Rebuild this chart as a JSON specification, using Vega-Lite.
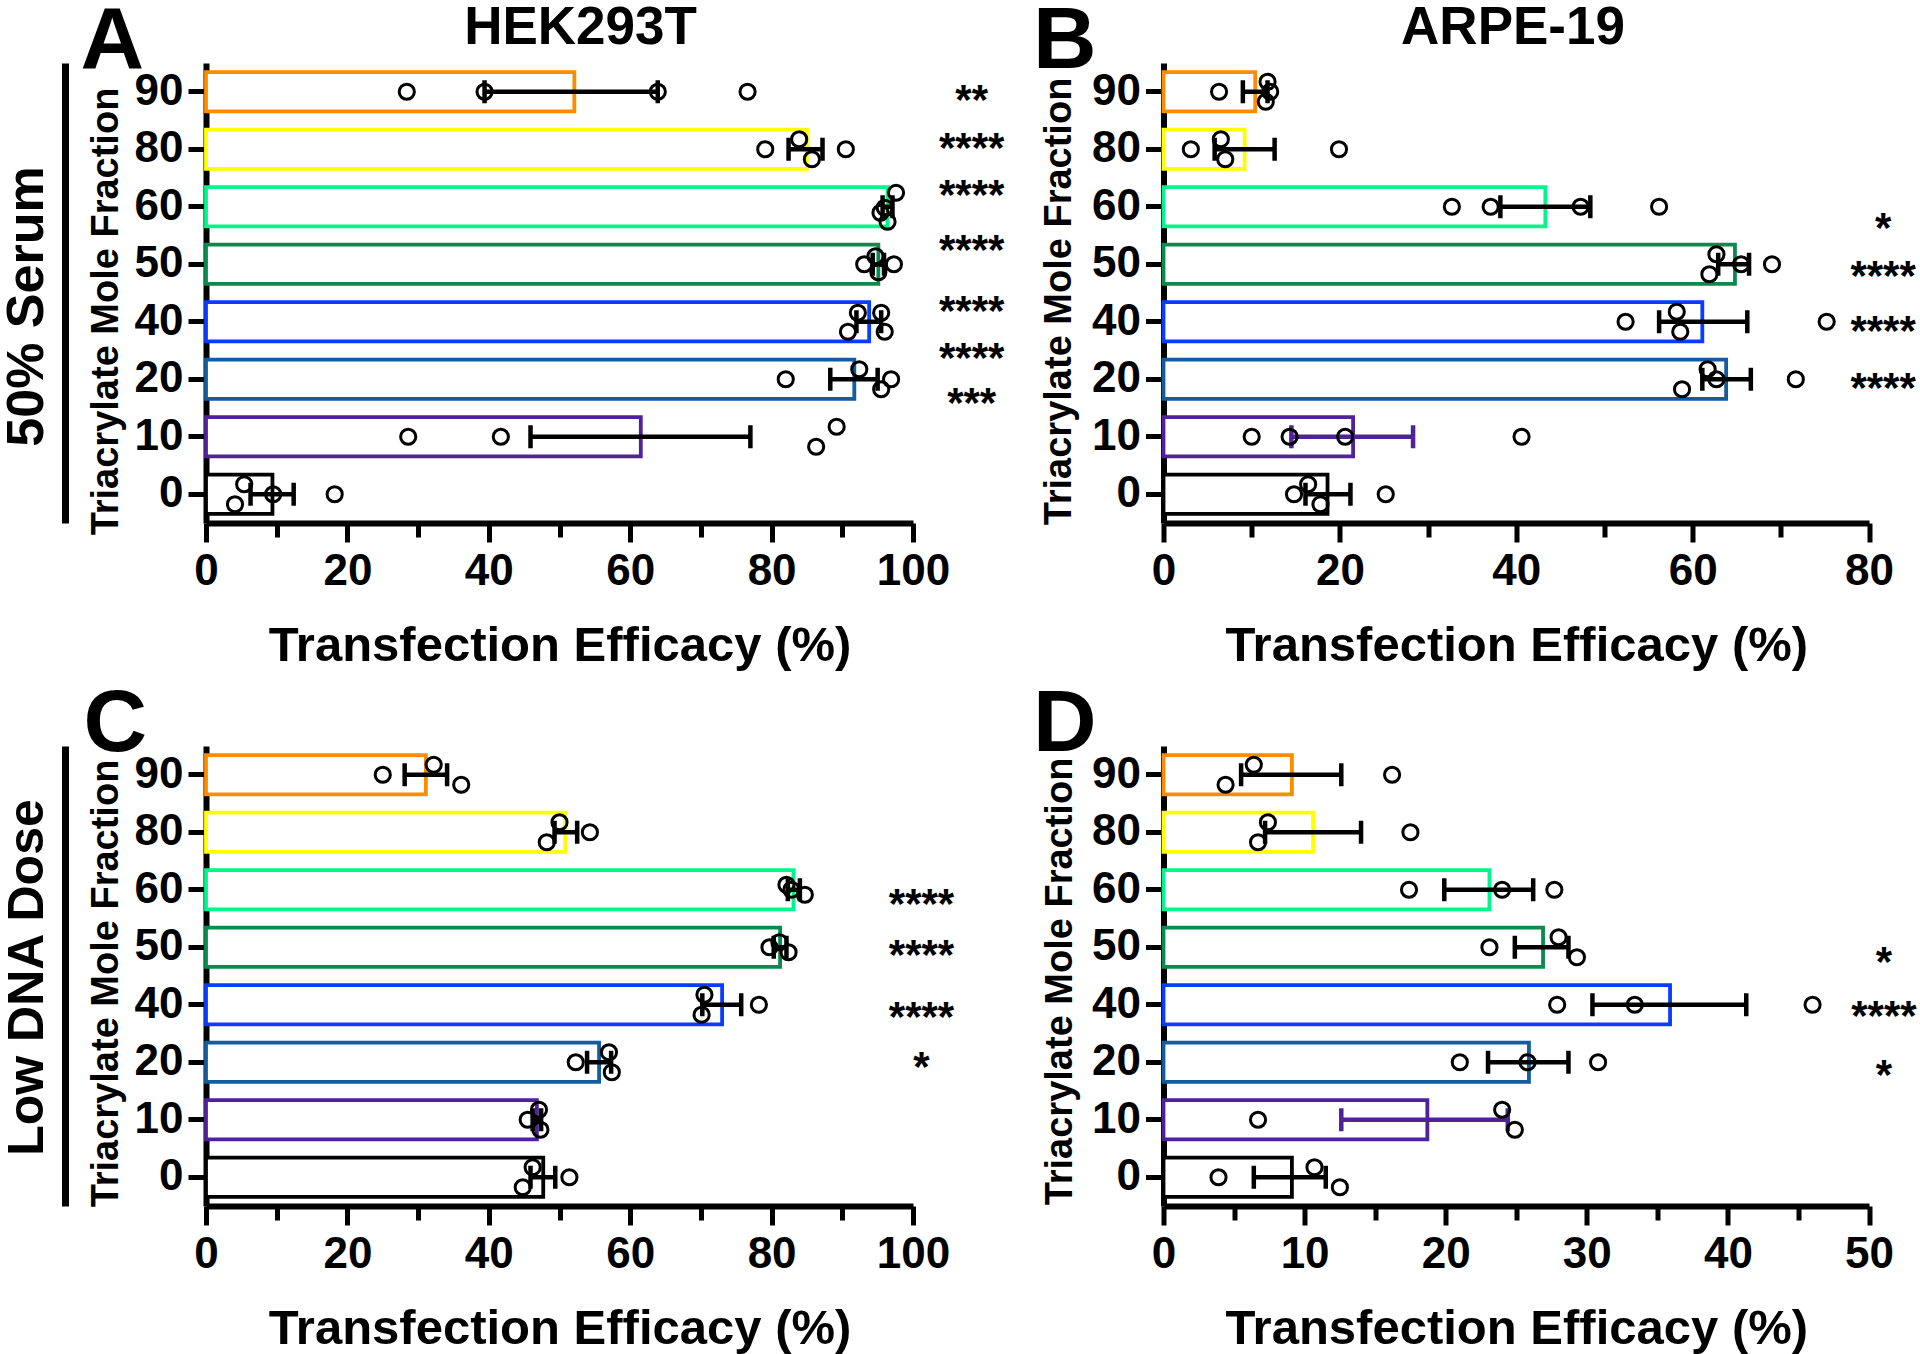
{
  "$schema": "https://vega.github.io/schema/vega-lite/v6.json",
  "background": "white",
  "autosize": {"type": "none"},
  "padding": {"left": 206, "top": 63, "right": 1714, "bottom": 1291},
  "config": {
    "view": {"stroke": null},
    "font": "Liberation Sans",
    "axis": {"domainColor": "black", "domainWidth": 6, "tickColor": "black", "tickWidth": 5, "labelFont": "Liberation Sans", "labelFontSize": 44, "labelFontWeight": "bold", "labelColor": "black", "titleFont": "Liberation Sans", "titleFontWeight": "bold", "titleColor": "black", "grid": false},
    "tick": {"opacity": 1},
    "point": {"opacity": 1}
  },
  "datasets": {
    "bars": [
      {"panel":"A","frac":"90","mean":52.1,"lo":39.4,"hi":63.9},
      {"panel":"A","frac":"80","mean":85.0,"lo":82.4,"hi":87.2},
      {"panel":"A","frac":"60","mean":96.4,"lo":95.7,"hi":97.1},
      {"panel":"A","frac":"50","mean":95.1,"lo":94.3,"hi":95.9},
      {"panel":"A","frac":"40","mean":93.8,"lo":92.0,"hi":95.5},
      {"panel":"A","frac":"20","mean":91.7,"lo":88.3,"hi":95.0},
      {"panel":"A","frac":"10","mean":61.5,"lo":45.9,"hi":77.0},
      {"panel":"A","frac":"0","mean":9.4,"lo":6.3,"hi":12.4},
      {"panel":"B","frac":"90","mean":10.4,"lo":9.0,"hi":11.8},
      {"panel":"B","frac":"80","mean":9.2,"lo":5.8,"hi":12.6},
      {"panel":"B","frac":"60","mean":43.3,"lo":38.2,"hi":48.4},
      {"panel":"B","frac":"50","mean":64.8,"lo":62.9,"hi":66.4},
      {"panel":"B","frac":"40","mean":61.1,"lo":56.2,"hi":66.2},
      {"panel":"B","frac":"20","mean":63.8,"lo":61.1,"hi":66.6},
      {"panel":"B","frac":"10","mean":21.5,"lo":14.5,"hi":28.3},
      {"panel":"B","frac":"0","mean":18.6,"lo":16.1,"hi":21.2},
      {"panel":"C","frac":"90","mean":31.1,"lo":28.1,"hi":34.1},
      {"panel":"C","frac":"80","mean":50.8,"lo":49.3,"hi":52.5},
      {"panel":"C","frac":"60","mean":83.1,"lo":82.3,"hi":84.0},
      {"panel":"C","frac":"50","mean":81.2,"lo":80.3,"hi":82.1},
      {"panel":"C","frac":"40","mean":73.0,"lo":70.2,"hi":75.7},
      {"panel":"C","frac":"20","mean":55.6,"lo":53.9,"hi":57.3},
      {"panel":"C","frac":"10","mean":46.8,"lo":46.2,"hi":47.4},
      {"panel":"C","frac":"0","mean":47.7,"lo":45.9,"hi":49.4},
      {"panel":"D","frac":"90","mean":9.1,"lo":5.5,"hi":12.6},
      {"panel":"D","frac":"80","mean":10.6,"lo":7.2,"hi":14.0},
      {"panel":"D","frac":"60","mean":23.1,"lo":19.9,"hi":26.2},
      {"panel":"D","frac":"50","mean":26.9,"lo":24.9,"hi":28.7},
      {"panel":"D","frac":"40","mean":35.9,"lo":30.4,"hi":41.3},
      {"panel":"D","frac":"20","mean":25.9,"lo":23.0,"hi":28.7},
      {"panel":"D","frac":"10","mean":18.7,"lo":12.6,"hi":24.4},
      {"panel":"D","frac":"0","mean":9.1,"lo":6.4,"hi":11.5}
    ],
    "points": [
      {"panel":"A","frac":"90","value":28.4,"lane":0},
      {"panel":"A","frac":"90","value":39.4,"lane":0},
      {"panel":"A","frac":"90","value":63.9,"lane":0},
      {"panel":"A","frac":"90","value":76.6,"lane":0},
      {"panel":"A","frac":"80","value":79.1,"lane":0},
      {"panel":"A","frac":"80","value":83.9,"lane":-1},
      {"panel":"A","frac":"80","value":85.7,"lane":1},
      {"panel":"A","frac":"80","value":90.5,"lane":0},
      {"panel":"A","frac":"60","value":97.6,"lane":-1.4},
      {"panel":"A","frac":"60","value":96.0,"lane":0.1},
      {"panel":"A","frac":"60","value":95.4,"lane":0.6},
      {"panel":"A","frac":"60","value":96.4,"lane":1.5},
      {"panel":"A","frac":"50","value":93.1,"lane":0},
      {"panel":"A","frac":"50","value":94.7,"lane":-0.8},
      {"panel":"A","frac":"50","value":95.1,"lane":0.8},
      {"panel":"A","frac":"50","value":97.3,"lane":0},
      {"panel":"A","frac":"40","value":92.2,"lane":-0.9},
      {"panel":"A","frac":"40","value":95.5,"lane":-0.9},
      {"panel":"A","frac":"40","value":90.8,"lane":1},
      {"panel":"A","frac":"40","value":96.0,"lane":1},
      {"panel":"A","frac":"20","value":82.0,"lane":0},
      {"panel":"A","frac":"20","value":92.4,"lane":-1},
      {"panel":"A","frac":"20","value":96.9,"lane":0},
      {"panel":"A","frac":"20","value":95.5,"lane":1},
      {"panel":"A","frac":"10","value":28.6,"lane":0},
      {"panel":"A","frac":"10","value":41.7,"lane":0},
      {"panel":"A","frac":"10","value":89.2,"lane":-1},
      {"panel":"A","frac":"10","value":86.3,"lane":1},
      {"panel":"A","frac":"0","value":5.4,"lane":-1},
      {"panel":"A","frac":"0","value":4.1,"lane":1},
      {"panel":"A","frac":"0","value":9.5,"lane":0},
      {"panel":"A","frac":"0","value":18.2,"lane":0},
      {"panel":"B","frac":"90","value":6.3,"lane":0},
      {"panel":"B","frac":"90","value":11.8,"lane":-1},
      {"panel":"B","frac":"90","value":12.1,"lane":0},
      {"panel":"B","frac":"90","value":11.6,"lane":1},
      {"panel":"B","frac":"80","value":3.1,"lane":0},
      {"panel":"B","frac":"80","value":6.5,"lane":-1},
      {"panel":"B","frac":"80","value":7.0,"lane":1},
      {"panel":"B","frac":"80","value":19.9,"lane":0},
      {"panel":"B","frac":"60","value":32.7,"lane":0},
      {"panel":"B","frac":"60","value":37.1,"lane":0},
      {"panel":"B","frac":"60","value":47.3,"lane":0},
      {"panel":"B","frac":"60","value":56.2,"lane":0},
      {"panel":"B","frac":"50","value":62.7,"lane":-1},
      {"panel":"B","frac":"50","value":65.5,"lane":0},
      {"panel":"B","frac":"50","value":61.9,"lane":1},
      {"panel":"B","frac":"50","value":69.0,"lane":0},
      {"panel":"B","frac":"40","value":52.4,"lane":0},
      {"panel":"B","frac":"40","value":58.2,"lane":-1},
      {"panel":"B","frac":"40","value":58.6,"lane":1},
      {"panel":"B","frac":"40","value":75.2,"lane":0},
      {"panel":"B","frac":"20","value":61.7,"lane":-1},
      {"panel":"B","frac":"20","value":62.7,"lane":0},
      {"panel":"B","frac":"20","value":58.8,"lane":1},
      {"panel":"B","frac":"20","value":71.7,"lane":0},
      {"panel":"B","frac":"10","value":10.0,"lane":0},
      {"panel":"B","frac":"10","value":14.3,"lane":0},
      {"panel":"B","frac":"10","value":20.6,"lane":0},
      {"panel":"B","frac":"10","value":40.6,"lane":0},
      {"panel":"B","frac":"0","value":16.4,"lane":-1},
      {"panel":"B","frac":"0","value":14.8,"lane":0},
      {"panel":"B","frac":"0","value":17.8,"lane":1},
      {"panel":"B","frac":"0","value":25.2,"lane":0},
      {"panel":"C","frac":"90","value":25.0,"lane":0},
      {"panel":"C","frac":"90","value":32.2,"lane":-1},
      {"panel":"C","frac":"90","value":36.1,"lane":1},
      {"panel":"C","frac":"80","value":50.0,"lane":-1},
      {"panel":"C","frac":"80","value":48.2,"lane":1},
      {"panel":"C","frac":"80","value":54.3,"lane":0},
      {"panel":"C","frac":"60","value":82.1,"lane":-0.5},
      {"panel":"C","frac":"60","value":82.8,"lane":0},
      {"panel":"C","frac":"60","value":84.7,"lane":0.5},
      {"panel":"C","frac":"50","value":79.7,"lane":0},
      {"panel":"C","frac":"50","value":81.1,"lane":-0.5},
      {"panel":"C","frac":"50","value":82.4,"lane":0.5},
      {"panel":"C","frac":"40","value":70.5,"lane":-1},
      {"panel":"C","frac":"40","value":70.1,"lane":1},
      {"panel":"C","frac":"40","value":78.2,"lane":0},
      {"panel":"C","frac":"20","value":52.3,"lane":0},
      {"panel":"C","frac":"20","value":57.0,"lane":-1},
      {"panel":"C","frac":"20","value":57.4,"lane":1},
      {"panel":"C","frac":"10","value":45.5,"lane":0},
      {"panel":"C","frac":"10","value":47.1,"lane":-1},
      {"panel":"C","frac":"10","value":47.3,"lane":1},
      {"panel":"C","frac":"0","value":46.2,"lane":-1},
      {"panel":"C","frac":"0","value":44.8,"lane":1},
      {"panel":"C","frac":"0","value":51.4,"lane":0},
      {"panel":"D","frac":"90","value":6.4,"lane":-1},
      {"panel":"D","frac":"90","value":4.4,"lane":1},
      {"panel":"D","frac":"90","value":16.2,"lane":0},
      {"panel":"D","frac":"80","value":7.4,"lane":-1},
      {"panel":"D","frac":"80","value":6.7,"lane":1},
      {"panel":"D","frac":"80","value":17.5,"lane":0},
      {"panel":"D","frac":"60","value":17.4,"lane":0},
      {"panel":"D","frac":"60","value":24.0,"lane":0},
      {"panel":"D","frac":"60","value":27.7,"lane":0},
      {"panel":"D","frac":"50","value":23.1,"lane":0},
      {"panel":"D","frac":"50","value":28.0,"lane":-1},
      {"panel":"D","frac":"50","value":29.3,"lane":1},
      {"panel":"D","frac":"40","value":27.9,"lane":0},
      {"panel":"D","frac":"40","value":33.4,"lane":0},
      {"panel":"D","frac":"40","value":46.0,"lane":0},
      {"panel":"D","frac":"20","value":21.0,"lane":0},
      {"panel":"D","frac":"20","value":25.8,"lane":0},
      {"panel":"D","frac":"20","value":30.8,"lane":0},
      {"panel":"D","frac":"10","value":6.7,"lane":0},
      {"panel":"D","frac":"10","value":24.0,"lane":-1},
      {"panel":"D","frac":"10","value":24.9,"lane":1},
      {"panel":"D","frac":"0","value":3.9,"lane":0},
      {"panel":"D","frac":"0","value":10.7,"lane":-1},
      {"panel":"D","frac":"0","value":12.5,"lane":1}
    ],
    "stars": [
      {"panel":"A","pos":7.0,"label":"**"},
      {"panel":"A","pos":6.16,"label":"****"},
      {"panel":"A","pos":5.35,"label":"****"},
      {"panel":"A","pos":4.39,"label":"****"},
      {"panel":"A","pos":3.33,"label":"****"},
      {"panel":"A","pos":2.51,"label":"****"},
      {"panel":"A","pos":1.73,"label":"***"},
      {"panel":"B","pos":4.77,"label":"*"},
      {"panel":"B","pos":3.93,"label":"****"},
      {"panel":"B","pos":2.98,"label":"****"},
      {"panel":"B","pos":1.99,"label":"****"},
      {"panel":"C","pos":4.9,"label":"****"},
      {"panel":"C","pos":4.0,"label":"****"},
      {"panel":"C","pos":2.92,"label":"****"},
      {"panel":"C","pos":2.06,"label":"*"},
      {"panel":"D","pos":3.89,"label":"*"},
      {"panel":"D","pos":2.95,"label":"****"},
      {"panel":"D","pos":1.91,"label":"*"}
    ]
  },
  "concat": [
    {
      "width": 707, "height": 460,
      "layer": [
        {"data": {"name": "bars"}, "transform": [{"filter": "datum.panel == 'A'"}],
         "mark": {"type": "bar", "fill": "white", "strokeWidth": 3.8},
         "encoding": {
           "y": {"field": "frac", "type": "nominal", "scale": {"domain": ["90","80","60","50","40","20","10","0"], "paddingInner": 0.32, "paddingOuter": 0.16},
                 "axis": {"orient": "left", "tickSize": 18, "labelPadding": 5, "title": "Triacrylate Mole Fraction", "titleFontSize": 38, "titleX": -89, "titleY": 248, "titleAngle": 270, "titleAlign": "center", "titleBaseline": "alphabetic"}},
           "x": {"field": "mean", "type": "quantitative", "scale": {"domain": [0, 100], "nice": false},
                 "axis": {"orient": "bottom", "values": [0,10,20,30,40,50,60,70,80,90,100], "labelExpr": "datum.value % 20 == 0 ? datum.label : ''", "tickSize": {"condition": {"test": "datum.value % 20 != 0", "value": 14}, "value": 19}, "labelPadding": 7, "labelFlush": false, "labelOverlap": false, "title": "Transfection Efficacy (%)", "titleFontSize": 49, "titlePadding": 28}},
           "stroke": {"field": "frac", "type": "nominal", "scale": {"domain": ["90","80","60","50","40","20","10","0"], "range": ["#FF8C00","#FFFF00","#00F58A","#0B8A4E","#0A3CFF","#135C9E","#50229A","#000000"]}, "legend": null}
         }},
        {"data": {"name": "bars"}, "transform": [{"filter": "datum.panel == 'A'"}],
         "mark": {"type": "rule", "strokeWidth": 4.5, "color": "black"},
         "encoding": {
           "y": {"field": "frac", "type": "nominal", "scale": {"domain": ["90","80","60","50","40","20","10","0"], "paddingInner": 0.32, "paddingOuter": 0.16}, "axis": null},
           "x": {"field": "lo", "type": "quantitative", "scale": {"domain": [0, 100], "nice": false}, "axis": null},
           "x2": {"field": "hi"}
         }},
        {"data": {"name": "bars"}, "transform": [{"filter": "datum.panel == 'A'"}],
         "mark": {"type": "tick", "thickness": 4.5, "size": 23, "orient": "vertical", "color": "black", "opacity": 1},
         "encoding": {
           "y": {"field": "frac", "type": "nominal", "scale": {"domain": ["90","80","60","50","40","20","10","0"], "paddingInner": 0.32, "paddingOuter": 0.16}, "axis": null},
           "x": {"field": "lo", "type": "quantitative", "scale": {"domain": [0, 100], "nice": false}, "axis": null}
         }},
        {"data": {"name": "bars"}, "transform": [{"filter": "datum.panel == 'A'"}],
         "mark": {"type": "tick", "thickness": 4.5, "size": 23, "orient": "vertical", "color": "black", "opacity": 1},
         "encoding": {
           "y": {"field": "frac", "type": "nominal", "scale": {"domain": ["90","80","60","50","40","20","10","0"], "paddingInner": 0.32, "paddingOuter": 0.16}, "axis": null},
           "x": {"field": "hi", "type": "quantitative", "scale": {"domain": [0, 100], "nice": false}, "axis": null}
         }},
        {"data": {"name": "points"}, "transform": [{"filter": "datum.panel == 'A'"}],
         "mark": {"type": "point", "shape": "circle", "filled": false, "color": "black", "strokeWidth": 3, "size": 230, "opacity": 1},
         "encoding": {
           "y": {"field": "frac", "type": "nominal", "scale": {"domain": ["90","80","60","50","40","20","10","0"], "paddingInner": 0.32, "paddingOuter": 0.16}, "axis": null},
           "yOffset": {"field": "lane", "type": "quantitative", "scale": {"domain": [-1, 1], "range": [9.55, 29.55]}},
           "x": {"field": "value", "type": "quantitative", "scale": {"domain": [0, 100], "nice": false},
                 "axis": {"orient": "top", "domain": false, "ticks": false, "labels": false, "title": "HEK293T", "titleFontSize": 53, "titleX": 374, "titleY": -20, "titleAngle": 0, "titleAlign": "center", "titleBaseline": "alphabetic"}}
         }},
        {"data": {"name": "stars"}, "transform": [{"filter": "datum.panel == 'A'"}],
         "mark": {"type": "text", "fontSize": 42, "fontWeight": "bold", "baseline": "alphabetic", "align": "center", "dy": 22, "color": "black"},
         "encoding": {
           "y": {"field": "pos", "type": "quantitative", "scale": {"domain": [-0.5, 7.5], "nice": false, "zero": false},
                 "axis": {"orient": "left", "offset": 141, "domainWidth": 7, "ticks": false, "labels": false, "title": "50% Serum", "titleFontSize": 52, "titleX": -23, "titleY": 243, "titleAngle": 270, "titleAlign": "center", "titleBaseline": "alphabetic"}},
           "x": {"datum": 108.3, "type": "quantitative", "scale": {"domain": [0, 100], "nice": false},
                 "axis": {"orient": "top", "domain": false, "ticks": false, "labels": false, "title": "A", "titleFontSize": 88, "titleX": -126, "titleY": 4, "titleAngle": 0, "titleAlign": "left", "titleBaseline": "alphabetic"}},
           "text": {"field": "label", "type": "nominal"}
         }}
      ],
      "resolve": {"scale": {"x": "independent", "y": "independent", "yOffset": "independent"}}
    },
    {
      "width": 705.5, "height": 460,
      "layer": [
        {"data": {"name": "bars"}, "transform": [{"filter": "datum.panel == 'B'"}],
         "mark": {"type": "bar", "fill": "white", "strokeWidth": 3.8},
         "encoding": {
           "y": {"field": "frac", "type": "nominal", "scale": {"domain": ["90","80","60","50","40","20","10","0"], "paddingInner": 0.32, "paddingOuter": 0.16},
                 "axis": {"orient": "left", "tickSize": 18, "labelPadding": 5, "title": "Triacrylate Mole Fraction", "titleFontSize": 38, "titleX": -93, "titleY": 238, "titleAngle": 270, "titleAlign": "center", "titleBaseline": "alphabetic"}},
           "x": {"field": "mean", "type": "quantitative", "scale": {"domain": [0, 80], "nice": false},
                 "axis": {"orient": "bottom", "values": [0,10,20,30,40,50,60,70,80], "labelExpr": "datum.value % 20 == 0 ? datum.label : ''", "tickSize": {"condition": {"test": "datum.value % 20 != 0", "value": 14}, "value": 19}, "labelPadding": 7, "labelFlush": false, "labelOverlap": false, "title": "Transfection Efficacy (%)", "titleFontSize": 49, "titlePadding": 28}},
           "stroke": {"field": "frac", "type": "nominal", "scale": {"domain": ["90","80","60","50","40","20","10","0"], "range": ["#FF8C00","#FFFF00","#00F58A","#0B8A4E","#0A3CFF","#135C9E","#50229A","#000000"]}, "legend": null}
         }},
        {"data": {"name": "bars"}, "transform": [{"filter": "datum.panel == 'B'"}],
         "mark": {"type": "rule", "strokeWidth": 4.5},
         "encoding": {
           "y": {"field": "frac", "type": "nominal", "scale": {"domain": ["90","80","60","50","40","20","10","0"], "paddingInner": 0.32, "paddingOuter": 0.16}, "axis": null},
           "x": {"field": "lo", "type": "quantitative", "scale": {"domain": [0, 80], "nice": false}, "axis": null},
           "x2": {"field": "hi"},
           "color": {"condition": {"test": "datum.frac == '10'", "value": "#50229A"}, "value": "black"}
         }},
        {"data": {"name": "bars"}, "transform": [{"filter": "datum.panel == 'B'"}],
         "mark": {"type": "tick", "thickness": 4.5, "size": 23, "orient": "vertical", "opacity": 1},
         "encoding": {
           "y": {"field": "frac", "type": "nominal", "scale": {"domain": ["90","80","60","50","40","20","10","0"], "paddingInner": 0.32, "paddingOuter": 0.16}, "axis": null},
           "x": {"field": "lo", "type": "quantitative", "scale": {"domain": [0, 80], "nice": false}, "axis": null},
           "color": {"condition": {"test": "datum.frac == '10'", "value": "#50229A"}, "value": "black"}
         }},
        {"data": {"name": "bars"}, "transform": [{"filter": "datum.panel == 'B'"}],
         "mark": {"type": "tick", "thickness": 4.5, "size": 23, "orient": "vertical", "opacity": 1},
         "encoding": {
           "y": {"field": "frac", "type": "nominal", "scale": {"domain": ["90","80","60","50","40","20","10","0"], "paddingInner": 0.32, "paddingOuter": 0.16}, "axis": null},
           "x": {"field": "hi", "type": "quantitative", "scale": {"domain": [0, 80], "nice": false}, "axis": null},
           "color": {"condition": {"test": "datum.frac == '10'", "value": "#50229A"}, "value": "black"}
         }},
        {"data": {"name": "points"}, "transform": [{"filter": "datum.panel == 'B'"}],
         "mark": {"type": "point", "shape": "circle", "filled": false, "color": "black", "strokeWidth": 3, "size": 230, "opacity": 1},
         "encoding": {
           "y": {"field": "frac", "type": "nominal", "scale": {"domain": ["90","80","60","50","40","20","10","0"], "paddingInner": 0.32, "paddingOuter": 0.16}, "axis": null},
           "yOffset": {"field": "lane", "type": "quantitative", "scale": {"domain": [-1, 1], "range": [9.55, 29.55]}},
           "x": {"field": "value", "type": "quantitative", "scale": {"domain": [0, 80], "nice": false},
                 "axis": {"orient": "top", "domain": false, "ticks": false, "labels": false, "title": "ARPE-19", "titleFontSize": 53, "titleX": 349, "titleY": -20, "titleAngle": 0, "titleAlign": "center", "titleBaseline": "alphabetic"}}
         }},
        {"data": {"name": "stars"}, "transform": [{"filter": "datum.panel == 'B'"}],
         "mark": {"type": "text", "fontSize": 42, "fontWeight": "bold", "baseline": "alphabetic", "align": "center", "dy": 22, "color": "black"},
         "encoding": {
           "y": {"field": "pos", "type": "quantitative", "scale": {"domain": [-0.5, 7.5], "nice": false, "zero": false}, "axis": null},
           "x": {"datum": 81.6, "type": "quantitative", "scale": {"domain": [0, 80], "nice": false},
                 "axis": {"orient": "top", "domain": false, "ticks": false, "labels": false, "title": "B", "titleFontSize": 88, "titleX": -131, "titleY": 4, "titleAngle": 0, "titleAlign": "left", "titleBaseline": "alphabetic"}},
           "text": {"field": "label", "type": "nominal"}
         }}
      ],
      "resolve": {"scale": {"x": "independent", "y": "independent", "yOffset": "independent"}}
    },
    {
      "width": 707, "height": 460,
      "layer": [
        {"data": {"name": "bars"}, "transform": [{"filter": "datum.panel == 'C'"}],
         "mark": {"type": "bar", "fill": "white", "strokeWidth": 3.8},
         "encoding": {
           "y": {"field": "frac", "type": "nominal", "scale": {"domain": ["90","80","60","50","40","20","10","0"], "paddingInner": 0.32, "paddingOuter": 0.16},
                 "axis": {"orient": "left", "tickSize": 18, "labelPadding": 5, "title": "Triacrylate Mole Fraction", "titleFontSize": 38, "titleX": -89, "titleY": 237, "titleAngle": 270, "titleAlign": "center", "titleBaseline": "alphabetic"}},
           "x": {"field": "mean", "type": "quantitative", "scale": {"domain": [0, 100], "nice": false},
                 "axis": {"orient": "bottom", "values": [0,10,20,30,40,50,60,70,80,90,100], "labelExpr": "datum.value % 20 == 0 ? datum.label : ''", "tickSize": {"condition": {"test": "datum.value % 20 != 0", "value": 14}, "value": 19}, "labelPadding": 7, "labelFlush": false, "labelOverlap": false, "title": "Transfection Efficacy (%)", "titleFontSize": 49, "titlePadding": 28}},
           "stroke": {"field": "frac", "type": "nominal", "scale": {"domain": ["90","80","60","50","40","20","10","0"], "range": ["#FF8C00","#FFFF00","#00F58A","#0B8A4E","#0A3CFF","#135C9E","#50229A","#000000"]}, "legend": null}
         }},
        {"data": {"name": "bars"}, "transform": [{"filter": "datum.panel == 'C'"}],
         "mark": {"type": "rule", "strokeWidth": 4.5, "color": "black"},
         "encoding": {
           "y": {"field": "frac", "type": "nominal", "scale": {"domain": ["90","80","60","50","40","20","10","0"], "paddingInner": 0.32, "paddingOuter": 0.16}, "axis": null},
           "x": {"field": "lo", "type": "quantitative", "scale": {"domain": [0, 100], "nice": false}, "axis": null},
           "x2": {"field": "hi"}
         }},
        {"data": {"name": "bars"}, "transform": [{"filter": "datum.panel == 'C'"}],
         "mark": {"type": "tick", "thickness": 4.5, "size": 23, "orient": "vertical", "color": "black", "opacity": 1},
         "encoding": {
           "y": {"field": "frac", "type": "nominal", "scale": {"domain": ["90","80","60","50","40","20","10","0"], "paddingInner": 0.32, "paddingOuter": 0.16}, "axis": null},
           "x": {"field": "lo", "type": "quantitative", "scale": {"domain": [0, 100], "nice": false}, "axis": null}
         }},
        {"data": {"name": "bars"}, "transform": [{"filter": "datum.panel == 'C'"}],
         "mark": {"type": "tick", "thickness": 4.5, "size": 23, "orient": "vertical", "color": "black", "opacity": 1},
         "encoding": {
           "y": {"field": "frac", "type": "nominal", "scale": {"domain": ["90","80","60","50","40","20","10","0"], "paddingInner": 0.32, "paddingOuter": 0.16}, "axis": null},
           "x": {"field": "hi", "type": "quantitative", "scale": {"domain": [0, 100], "nice": false}, "axis": null}
         }},
        {"data": {"name": "points"}, "transform": [{"filter": "datum.panel == 'C'"}],
         "mark": {"type": "point", "shape": "circle", "filled": false, "color": "black", "strokeWidth": 3, "size": 230, "opacity": 1},
         "encoding": {
           "y": {"field": "frac", "type": "nominal", "scale": {"domain": ["90","80","60","50","40","20","10","0"], "paddingInner": 0.32, "paddingOuter": 0.16}, "axis": null},
           "yOffset": {"field": "lane", "type": "quantitative", "scale": {"domain": [-1, 1], "range": [9.55, 29.55]}},
           "x": {"field": "value", "type": "quantitative", "scale": {"domain": [0, 100], "nice": false}, "axis": null}
         }},
        {"data": {"name": "stars"}, "transform": [{"filter": "datum.panel == 'C'"}],
         "mark": {"type": "text", "fontSize": 42, "fontWeight": "bold", "baseline": "alphabetic", "align": "center", "dy": 22, "color": "black"},
         "encoding": {
           "y": {"field": "pos", "type": "quantitative", "scale": {"domain": [-0.5, 7.5], "nice": false, "zero": false},
                 "axis": {"orient": "left", "offset": 141, "domainWidth": 7, "ticks": false, "labels": false, "title": "Low DNA Dose", "titleFontSize": 50, "titleX": -23, "titleY": 231, "titleAngle": 270, "titleAlign": "center", "titleBaseline": "alphabetic"}},
           "x": {"datum": 101.2, "type": "quantitative", "scale": {"domain": [0, 100], "nice": false},
                 "axis": {"orient": "top", "domain": false, "ticks": false, "labels": false, "title": "C", "titleFontSize": 88, "titleX": -123, "titleY": 4, "titleAngle": 0, "titleAlign": "left", "titleBaseline": "alphabetic"}},
           "text": {"field": "label", "type": "nominal"}
         }}
      ],
      "resolve": {"scale": {"x": "independent", "y": "independent", "yOffset": "independent"}}
    },
    {
      "width": 705.5, "height": 460,
      "layer": [
        {"data": {"name": "bars"}, "transform": [{"filter": "datum.panel == 'D'"}],
         "mark": {"type": "bar", "fill": "white", "strokeWidth": 3.8},
         "encoding": {
           "y": {"field": "frac", "type": "nominal", "scale": {"domain": ["90","80","60","50","40","20","10","0"], "paddingInner": 0.32, "paddingOuter": 0.16},
                 "axis": {"orient": "left", "tickSize": 18, "labelPadding": 5, "title": "Triacrylate Mole Fraction", "titleFontSize": 38, "titleX": -92, "titleY": 235, "titleAngle": 270, "titleAlign": "center", "titleBaseline": "alphabetic"}},
           "x": {"field": "mean", "type": "quantitative", "scale": {"domain": [0, 50], "nice": false},
                 "axis": {"orient": "bottom", "values": [0,5,10,15,20,25,30,35,40,45,50], "labelExpr": "datum.value % 10 == 0 ? datum.label : ''", "tickSize": {"condition": {"test": "datum.value % 10 != 0", "value": 14}, "value": 19}, "labelPadding": 7, "labelFlush": false, "labelOverlap": false, "title": "Transfection Efficacy (%)", "titleFontSize": 49, "titlePadding": 28}},
           "stroke": {"field": "frac", "type": "nominal", "scale": {"domain": ["90","80","60","50","40","20","10","0"], "range": ["#FF8C00","#FFFF00","#00F58A","#0B8A4E","#0A3CFF","#135C9E","#50229A","#000000"]}, "legend": null}
         }},
        {"data": {"name": "bars"}, "transform": [{"filter": "datum.panel == 'D'"}],
         "mark": {"type": "rule", "strokeWidth": 4.5},
         "encoding": {
           "y": {"field": "frac", "type": "nominal", "scale": {"domain": ["90","80","60","50","40","20","10","0"], "paddingInner": 0.32, "paddingOuter": 0.16}, "axis": null},
           "x": {"field": "lo", "type": "quantitative", "scale": {"domain": [0, 50], "nice": false}, "axis": null},
           "x2": {"field": "hi"},
           "color": {"condition": {"test": "datum.frac == '10'", "value": "#50229A"}, "value": "black"}
         }},
        {"data": {"name": "bars"}, "transform": [{"filter": "datum.panel == 'D'"}],
         "mark": {"type": "tick", "thickness": 4.5, "size": 23, "orient": "vertical", "opacity": 1},
         "encoding": {
           "y": {"field": "frac", "type": "nominal", "scale": {"domain": ["90","80","60","50","40","20","10","0"], "paddingInner": 0.32, "paddingOuter": 0.16}, "axis": null},
           "x": {"field": "lo", "type": "quantitative", "scale": {"domain": [0, 50], "nice": false}, "axis": null},
           "color": {"condition": {"test": "datum.frac == '10'", "value": "#50229A"}, "value": "black"}
         }},
        {"data": {"name": "bars"}, "transform": [{"filter": "datum.panel == 'D'"}],
         "mark": {"type": "tick", "thickness": 4.5, "size": 23, "orient": "vertical", "opacity": 1},
         "encoding": {
           "y": {"field": "frac", "type": "nominal", "scale": {"domain": ["90","80","60","50","40","20","10","0"], "paddingInner": 0.32, "paddingOuter": 0.16}, "axis": null},
           "x": {"field": "hi", "type": "quantitative", "scale": {"domain": [0, 50], "nice": false}, "axis": null},
           "color": {"condition": {"test": "datum.frac == '10'", "value": "#50229A"}, "value": "black"}
         }},
        {"data": {"name": "points"}, "transform": [{"filter": "datum.panel == 'D'"}],
         "mark": {"type": "point", "shape": "circle", "filled": false, "color": "black", "strokeWidth": 3, "size": 230, "opacity": 1},
         "encoding": {
           "y": {"field": "frac", "type": "nominal", "scale": {"domain": ["90","80","60","50","40","20","10","0"], "paddingInner": 0.32, "paddingOuter": 0.16}, "axis": null},
           "yOffset": {"field": "lane", "type": "quantitative", "scale": {"domain": [-1, 1], "range": [9.55, 29.55]}},
           "x": {"field": "value", "type": "quantitative", "scale": {"domain": [0, 50], "nice": false}, "axis": null}
         }},
        {"data": {"name": "stars"}, "transform": [{"filter": "datum.panel == 'D'"}],
         "mark": {"type": "text", "fontSize": 42, "fontWeight": "bold", "baseline": "alphabetic", "align": "center", "dy": 22, "color": "black"},
         "encoding": {
           "y": {"field": "pos", "type": "quantitative", "scale": {"domain": [-0.5, 7.5], "nice": false, "zero": false}, "axis": null},
           "x": {"datum": 51.06, "type": "quantitative", "scale": {"domain": [0, 50], "nice": false},
                 "axis": {"orient": "top", "domain": false, "ticks": false, "labels": false, "title": "D", "titleFontSize": 88, "titleX": -131, "titleY": 4, "titleAngle": 0, "titleAlign": "left", "titleBaseline": "alphabetic"}},
           "text": {"field": "label", "type": "nominal"}
         }}
      ],
      "resolve": {"scale": {"x": "independent", "y": "independent", "yOffset": "independent"}}
    }
  ],
  "columns": 2,
  "bounds": "flush",
  "spacing": {"row": 223, "column": 250.5}
}
